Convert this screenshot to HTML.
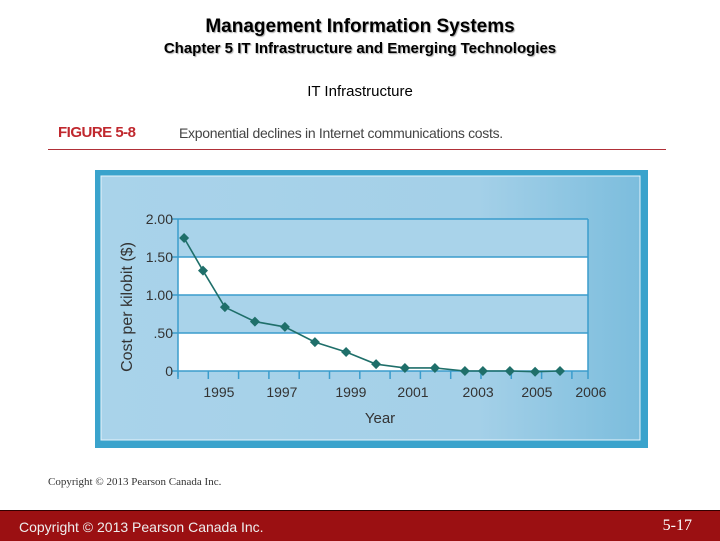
<!DOCTYPE html>
<html><head><meta charset="utf-8"><style>
body{margin:0;width:720px;height:540px;background:#fff;position:relative;overflow:hidden;font-family:"Liberation Sans",sans-serif}
.t{position:absolute;left:0;width:720px;text-align:center;color:#000}
</style></head><body>
<div class="t" style="top:16px;font-size:19px;font-weight:bold;text-shadow:1px 1px 1px #aaa">Management Information Systems</div>
<div class="t" style="top:40px;font-size:15px;font-weight:bold;text-shadow:1px 1px 1px #aaa">Chapter 5 IT Infrastructure and Emerging Technologies</div>
<div class="t" style="top:83px;font-size:15px">IT Infrastructure</div>
<div style="position:absolute;left:58px;top:124px;font-size:15px;font-weight:bold;color:#c0282e;letter-spacing:-0.5px">FIGURE 5-8</div>
<div style="position:absolute;left:179px;top:125px;font-size:14px;color:#444;letter-spacing:-0.3px">Exponential declines in Internet communications costs.</div>
<div style="position:absolute;left:48px;top:149px;width:618px;height:1px;background:#b03038"></div>
<svg style="position:absolute;left:0;top:0" width="720" height="540">
<defs><linearGradient id="g" x1="0" x2="1"><stop offset="0" stop-color="#a9d3ea"/><stop offset="0.7" stop-color="#a4d0e8"/><stop offset="1" stop-color="#7cbddd"/></linearGradient></defs>
<rect x="95" y="170" width="553" height="278" fill="#3aa3cc"/>
<rect x="101" y="176" width="539" height="264" fill="url(#g)" stroke="#e6f3fa" stroke-width="1"/>
<g id="plot"></g>
<text transform="translate(132,307) rotate(-90)" text-anchor="middle" font-size="16" fill="#333">Cost per kilobit ($)</text>
<text x="380" y="423" text-anchor="middle" font-size="15" fill="#333">Year</text>
</svg>
<div style="position:absolute;left:48px;top:476px;font-size:11px;font-family:'Liberation Serif',serif;color:#333">Copyright © 2013 Pearson Canada Inc.</div>
<div style="position:absolute;left:0;top:510px;width:720px;height:30px;background:#9b1012;border-top:1px solid #300">
<span style="position:absolute;left:19px;top:8px;font-size:14px;color:#eee">Copyright © 2013 Pearson Canada Inc.</span>
<span style="position:absolute;right:28px;top:6px;font-size:16px;color:#fff;font-family:'Liberation Serif',serif">5-17</span>
</div>
<script>
const years=[1994.07,1994.7,1995.43,1996.43,1997.43,1998.43,1999.47,2000.47,2001.43,2002.43,2003.43,2004.03,2004.93,2005.77,2006.6];
const costs=[1.75,1.32,0.84,0.65,0.58,0.38,0.25,0.09,0.04,0.04,0,0,0,-0.01,0];
const yTicks=[0,0.5,1,1.5,2];
const yTickLabels=["0",".50","1.00","1.50","2.00"];
const xLabelYears=[1995,1997,1999,2001,2003,2005,2006];
const xLabelPos=[1995.23,1997.33,1999.63,2001.7,2003.87,2005.83,2007.63];
const NS="http://www.w3.org/2000/svg";
const g=document.getElementById('plot');
const X0=178,X1=588,Y0=371,Y1=219;
const xs=v=>212+(v-1995)*30;
const ys=v=>Y0-(v/2)*(Y0-Y1);
function el(t,a){const e=document.createElementNS(NS,t);for(const k in a)e.setAttribute(k,a[k]);g.appendChild(e);return e;}
for(let i=0;i<yTicks.length-1;i++){
 const r=el('rect',{x:X0,y:ys(yTicks[i+1]),width:X1-X0,height:ys(yTicks[i])-ys(yTicks[i+1]),fill:i%2==0?'#ffffff':'#a9d3ea'});
 
 
}
yTicks.forEach((v,i)=>{
 const l=el('line',{x1:X0-6,x2:X1,y1:ys(v),y2:ys(v),stroke:'#3a9ccc','stroke-width':1.5});
 
 
 const t=el('text',{x:X0-5,y:ys(v)+5,'text-anchor':'end','font-size':14,fill:'#333'});
 t.textContent=yTickLabels[i];
 
 
});
const ax=el('line',{x1:X0,x2:X0,y1:Y1,y2:Y0+6,stroke:'#3a9ccc','stroke-width':1.5});


for(let x=X0;x<=X1;x+=30.3){
 const tk=el('line',{x1:x,x2:x,y1:Y0,y2:Y0+8,stroke:'#3a9ccc','stroke-width':1.5});
 
 
}
const rt=el('line',{x1:X1,x2:X1,y1:Y1,y2:Y0+8,stroke:'#3a9ccc','stroke-width':1.5});


xLabelYears.forEach((y,i)=>{
 const t=el('text',{x:xs(xLabelPos[i]),y:397,'text-anchor':'middle','font-size':14,fill:'#333'});
 t.textContent=y;
 
 
});
const pl=el('polyline',{points:years.map((y,i)=>xs(y)+','+ys(costs[i])).join(' '),fill:'none',stroke:'#1f6f6a','stroke-width':1.6});


years.forEach((y,i)=>{
 const cx=xs(y),cy=ys(costs[i]);
 const p=el('polygon',{points:`${cx},${cy-5} ${cx+5},${cy} ${cx},${cy+5} ${cx-5},${cy}`,fill:'#1f6f6a'});
 
 
});
</script>
</body></html>
